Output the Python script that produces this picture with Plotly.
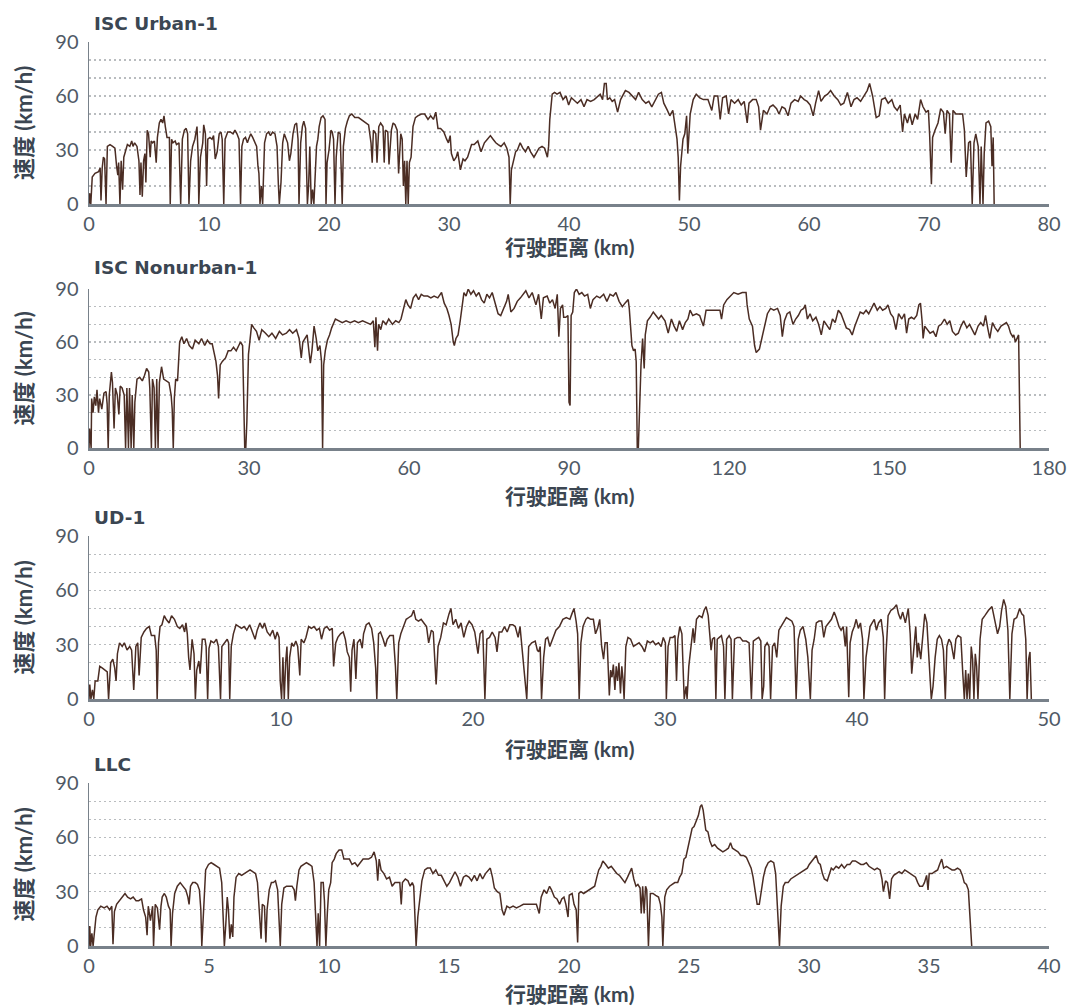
import plotly.graph_objects as go

# ---------------- data (distance km, speed km/h) ----------------
urban_km_a = [0, 0.05, 0.15, 0.27, 0.5, 0.8, 0.93, 1.0, 1.1, 1.2,
              1.3, 1.42, 1.53, 1.75, 1.97, 2.16, 2.3, 2.4, 2.47, 2.58,
              2.68, 2.8, 2.9, 3.07, 3.2, 3.4, 3.56, 3.67, 3.8, 4.0,
              4.16, 4.25, 4.33, 4.44, 4.55, 4.66, 4.74, 4.85, 4.96, 5.1,
              5.18, 5.3, 5.45, 5.6, 5.7, 5.86, 6.0, 6.14, 6.25, 6.36,
              6.5, 6.7, 6.77, 6.88, 7.0, 7.18, 7.29, 7.5, 7.64, 7.78,
              7.95, 8.1, 8.22, 8.33, 8.47, 8.63, 8.82, 9.0, 9.1, 9.15,
              9.29, 9.48, 9.56, 9.7, 9.8, 9.9, 10.08, 10.25, 10.38, 10.52,
              10.68, 10.85, 11.0, 11.1, 11.23, 11.34, 11.56, 11.78, 12.0, 12.16,
              12.33, 12.5, 12.63, 12.74, 12.88, 13.04, 13.2, 13.3, 13.48, 13.64,
              13.8, 13.97, 14.08, 14.16, 14.25, 14.36, 14.47, 14.55, 14.63, 14.8,
              14.96, 15.12, 15.3, 15.5, 15.67, 15.78, 15.86, 16.0, 16.14, 16.27,
              16.4, 16.55, 16.7, 16.82, 17.0, 17.15, 17.3, 17.42, 17.5, 17.64,
              17.78, 17.9, 18.05, 18.2, 18.3, 18.4, 18.52, 18.63, 18.74, 18.82,
              18.96, 19.07, 19.18, 19.34, 19.5, 19.67, 19.75, 19.84, 20.0, 20.16,
              20.27, 20.38, 20.5, 20.6, 20.77, 20.93, 21.1, 21.2, 21.37, 21.53,
              21.7, 21.9, 22.15]
urban_speed_a = [0, 6, 0, 15, 17, 18, 20, 2, 20, 26,
                 25, 0, 32, 33, 32, 31, 21, 16, 23, 0,
                 24, 8, 26, 30, 33, 32, 35, 32, 34, 32,
                 24, 5, 23, 4, 24, 28, 12, 41, 39, 26,
                 35, 34, 35, 23, 37, 45, 47, 45, 49, 43,
                 37, 37, 0, 36, 34, 35, 33, 34, 0, 36,
                 41, 42, 39, 0, 24, 32, 36, 43, 26, 0,
                 26, 34, 44, 39, 10, 36, 37, 36, 38, 25,
                 29, 39, 40, 36, 0, 36, 40, 40, 39, 41,
                 39, 36, 0, 32, 36, 37, 34, 36, 39, 37,
                 34, 32, 21, 17, 0, 10, 0, 17, 34, 39,
                 40, 38, 40, 39, 32, 11, 0, 12, 34, 39,
                 37, 34, 24, 28, 39, 44, 45, 36, 0, 34,
                 43, 46, 42, 0, 10, 32, 0, 8, 0, 15,
                 32, 36, 43, 48, 49, 47, 0, 23, 30, 41,
                 40, 36, 0, 26, 40, 39, 0, 32, 42, 46,
                 49, 50, 48]
urban_km_b = [22.46, 22.88, 23.3, 23.5, 23.6, 23.7, 23.9, 24.0, 24.15, 24.3,
              24.5, 24.6, 24.7, 24.9, 25.0, 25.2, 25.34, 25.5, 25.68, 25.8,
              25.98, 26.1, 26.2, 26.3, 26.4, 26.5, 26.6, 26.7, 26.84, 27.0,
              27.2, 27.4, 27.7, 27.97, 28.25, 28.47, 28.7, 28.9, 29.08, 29.3,
              29.57, 29.8, 29.95, 30.1, 30.2, 30.4, 30.6, 30.73, 30.95, 31.17,
              31.33, 31.55, 31.72, 31.88, 32.1, 32.4, 32.67, 32.95, 33.2, 33.45,
              33.67, 33.9, 34.1, 34.33, 34.6, 34.82, 35.0, 35.1, 35.2, 35.4,
              35.55, 35.7, 35.93, 36.15, 36.37, 36.6, 36.8, 37.08, 37.3, 37.5,
              37.75, 37.97, 38.2, 38.3, 38.4, 38.6, 38.8, 39.0, 39.25, 39.5,
              39.75, 39.97, 40.2, 40.4, 40.7, 41.0, 41.25, 41.5, 41.8, 42.1,
              42.3, 42.6, 42.8, 42.95, 43.1, 43.2, 43.4, 43.6, 43.8, 44.05,
              44.3, 44.5, 44.7, 45.0, 45.3, 45.55, 45.8, 46.1, 46.4, 46.65,
              46.9, 47.2, 47.45, 47.7, 47.9, 48.2, 48.4, 48.65, 48.85, 49.0,
              49.1, 49.2, 49.3, 49.5, 49.65, 49.8, 49.9, 50.0, 50.1, 50.35,
              50.6, 50.9, 51.2]
urban_speed_b = [48, 46, 44, 34, 23, 41, 39, 23, 43, 45,
                 43, 23, 41, 40, 22, 41, 45, 44, 41, 17,
                 39, 36, 10, 24, 0, 24, 0, 23, 26, 43,
                 48, 49, 50, 50, 47, 49, 47, 51, 42, 42,
                 40, 36, 34, 38, 28, 24, 26, 29, 19, 25,
                 24, 26, 30, 33, 33, 35, 29, 34, 36, 38,
                 36, 34, 33, 32, 34, 31, 26, 0, 19, 24,
                 29, 30, 34, 31, 29, 32, 29, 26, 29, 31,
                 32, 31, 26, 32, 47, 61, 62, 61, 62, 58,
                 60, 55, 59, 58, 56, 58, 54, 58, 57, 58,
                 59, 61, 58, 67, 67, 58, 59, 57, 58, 51,
                 58, 61, 63, 62, 60, 58, 62, 58, 56, 57,
                 54, 58, 61, 62, 56, 52, 49, 52, 41, 36,
                 26, 2, 21, 36, 39, 49, 28, 43, 50, 58,
                 61, 59, 58]
urban_km_c = [51.58, 51.9, 52.1, 52.4, 52.6, 52.8, 53.1, 53.3, 53.5, 53.8,
              54.1, 54.35, 54.6, 54.85, 55.0, 55.3, 55.6, 55.8, 55.96, 56.2,
              56.5, 56.75, 57.0, 57.3, 57.5, 57.75, 58.0, 58.25, 58.5, 58.8,
              59.1, 59.3, 59.6, 59.85, 60.1, 60.35, 60.55, 60.8, 61.0, 61.3,
              61.55, 61.8, 62.1, 62.4, 62.65, 62.9, 63.2, 63.5, 63.75, 64.0,
              64.3, 64.6, 64.85, 65.05, 65.3, 65.45, 65.6, 65.85, 66.05, 66.35,
              66.6, 66.9, 67.1, 67.35, 67.6, 67.8, 67.95, 68.2, 68.4, 68.6,
              68.85, 69.05, 69.3, 69.5, 69.75, 69.95, 70.05, 70.2, 70.3, 70.5,
              70.75, 70.97, 71.2, 71.35, 71.5, 71.7, 71.85, 72.0, 72.25, 72.5,
              72.8, 72.95, 73.1, 73.3, 73.45, 73.6, 73.75, 73.9, 74.1, 74.25,
              74.35, 74.5, 74.6, 74.75, 74.97, 75.15, 75.25, 75.35, 75.43]
urban_speed_c = [58, 52, 60, 60, 47, 59, 60, 50, 58, 56,
                 58, 55, 57, 45, 56, 58, 58, 54, 41, 52,
                 50, 54, 55, 53, 50, 54, 53, 49, 56, 58,
                 57, 60, 58, 57, 55, 49, 56, 63, 57, 60,
                 61, 63, 60, 58, 55, 56, 62, 54, 58, 59,
                 57, 60, 63, 67, 60, 54, 48, 49, 58, 59,
                 56, 58, 54, 52, 55, 40, 50, 45, 50, 44,
                 50, 47, 58, 54, 51, 52, 39, 11, 37, 41,
                 45, 53, 51, 39, 52, 50, 23, 52, 50, 50,
                 50, 41, 15, 34, 35, 0, 34, 39, 32, 0,
                 32, 0, 28, 45, 46, 43, 21, 37, 0]

nonurban_km_a = [0, 0.1, 0.4, 0.5, 0.76, 1.0, 1.27, 1.5, 1.78, 2.0,
                 2.4, 2.8, 3.2, 3.4, 3.6, 3.8, 4.2, 4.4, 4.7, 4.95,
                 5.3, 5.6, 5.85, 6.2, 6.6, 6.86, 7.1, 7.4, 7.6, 7.9,
                 8.1, 8.4, 8.6, 9.0, 9.5, 10.0, 10.4, 10.8, 11.2, 11.4,
                 11.7, 11.9, 12.2, 12.45, 12.7, 12.95, 13.2, 13.6, 14.0, 14.5,
                 15.0, 15.4, 15.6, 15.8, 16.0, 16.25, 16.6, 17.0, 17.4, 17.8,
                 18.3, 18.8, 19.4, 19.9, 20.6, 21.1, 21.7, 22.2, 22.7, 23.1,
                 23.4, 23.8, 24.1, 24.3, 24.6, 25.0, 25.6, 26.1, 26.6, 27.1,
                 27.6, 28.0, 28.4, 28.8, 29.1, 29.2, 29.4, 29.6, 29.9, 30.3,
                 30.5, 30.9, 31.4, 31.9, 32.4, 33.1, 33.7, 34.3, 35.0, 35.7,
                 36.3, 37.0, 37.6, 38.2, 38.9, 39.4, 39.8, 40.1, 40.5, 40.9,
                 41.3, 41.5, 41.8, 42.2, 42.6, 42.9, 43.3, 43.6, 43.8, 44.0,
                 44.3, 44.7, 45.1, 45.5, 46.2, 46.8, 47.5, 48.2, 49.0, 49.8,
                 50.5, 51.3, 52.1, 52.8, 53.3, 53.6, 53.8, 54.1, 54.3, 54.7,
                 55.1, 55.7, 56.2, 56.9, 57.5, 58.1, 58.5, 58.9, 59.4, 59.8,
                 60.3, 60.8, 61.3, 61.8, 62.3, 62.8, 63.5, 64.1, 64.7, 65.4,
                 66.1, 66.6, 67.1, 67.5, 67.9, 68.3, 68.5, 68.8, 69.2, 69.6,
                 69.9, 70.3, 70.7, 71.1, 71.6, 72.1, 72.6, 73.1, 73.6, 74.1,
                 74.6, 75.1, 75.6, 76.2, 76.7, 77.2, 77.8, 78.3, 78.6, 79.1,
                 79.7, 80.3, 80.9]
nonurban_speed_a = [0, 11, 0, 28, 20, 29, 24, 33, 20, 28,
                    22, 31, 32, 25, 0, 30, 43, 37, 11, 34,
                    30, 19, 35, 34, 30, 0, 34, 0, 34, 0,
                    30, 0, 26, 39, 40, 38, 41, 45, 43, 34,
                    0, 39, 34, 0, 39, 0, 37, 46, 39, 38,
                    37, 30, 22, 0, 28, 39, 38, 60, 63, 59,
                    62, 58, 56, 61, 59, 62, 58, 61, 59, 59,
                    55, 49, 41, 28, 47, 49, 51, 55, 55, 57,
                    55, 58, 60, 58, 19, 0, 0, 15, 53, 66,
                    70, 68, 66, 61, 67, 65, 63, 65, 62, 66,
                    64, 65, 67, 65, 67, 62, 51, 60, 62, 64,
                    53, 48, 55, 69, 62, 55, 58, 49, 0, 47,
                    55, 61, 64, 68, 73, 72, 71, 72, 71, 72,
                    71, 72, 71, 70, 72, 57, 74, 55, 70, 67,
                    72, 70, 73, 70, 72, 71, 73, 78, 84, 81,
                    79, 85, 87, 84, 87, 86, 86, 85, 86, 85,
                    88, 82, 79, 75, 70, 60, 58, 62, 64, 72,
                    79, 88, 86, 90, 87, 89, 86, 88, 84, 82,
                    87, 85, 88, 81, 76, 75, 79, 83, 87, 77,
                    79, 83, 85]
nonurban_km_b = [81.9, 82.5, 83.1, 83.8, 84.3, 84.8, 85.2, 85.9, 86.4, 86.9,
                 87.4, 87.8, 88.1, 88.4, 88.8, 89.0, 89.4, 89.8, 90.0, 90.2,
                 90.4, 90.7, 91.0, 91.4, 91.9, 92.4, 92.9, 93.5, 94.0, 94.5,
                 95.2, 95.8, 96.5, 97.1, 97.7, 98.3, 98.8, 99.4, 100.0, 100.5,
                 101.1, 101.3, 101.6, 101.8, 102.1, 102.4, 102.6, 102.8, 103.0, 103.3,
                 103.5, 103.8, 104.1, 104.3, 104.7, 105.2, 105.8, 106.3, 106.8, 107.3,
                 108.0, 108.6, 109.2, 109.7, 110.2, 110.7, 111.3, 111.8, 112.3, 112.7,
                 113.2, 113.9, 114.5, 115.2, 115.7, 116.5, 117.5, 118.3, 118.6, 119.0,
                 119.6, 120.3, 120.9, 121.7, 122.5, 123.2, 123.4, 123.8, 124.4, 124.8,
                 125.1, 125.7, 126.2, 126.7, 127.2, 127.8, 128.4, 129.1, 129.6, 130.0,
                 130.4, 130.9, 131.4, 132.0, 132.5, 133.0, 133.5, 134.0, 134.3, 134.7,
                 135.2, 135.7, 136.3, 136.8, 137.3, 137.8, 138.4, 138.9, 139.4, 139.9,
                 140.5, 141.0, 141.5, 142.0, 142.6, 143.1, 143.6, 144.1, 144.6, 145.2,
                 145.7, 146.2, 146.7, 147.2, 147.8, 148.3, 148.8, 149.4, 149.8, 150.3,
                 150.8, 151.3, 151.8, 152.4, 152.9, 153.3, 153.7, 154.2, 154.7, 155.2,
                 155.6, 155.9, 156.2, 156.4, 156.7, 157.2, 157.7, 158.3, 158.8, 159.3,
                 159.8, 160.4, 160.9, 161.4, 161.9, 162.5, 163.0, 163.5, 164.0, 164.6,
                 165.1, 165.6, 166.1, 166.7, 167.2, 167.7, 168.1, 168.5, 168.9, 169.4,
                 169.9, 170.4, 171.0, 171.5, 172.0, 172.4, 172.8, 173.2, 173.4, 173.7,
                 174.3, 174.6]
nonurban_speed_b = [89, 85, 88, 81, 87, 73, 85, 86, 82, 84,
                    79, 87, 63, 79, 81, 74, 74, 75, 26, 24,
                    75, 77, 88, 90, 87, 88, 86, 87, 79, 84,
                    86, 85, 87, 83, 87, 86, 88, 83, 80, 82,
                    84, 79, 68, 58, 55, 56, 49, 0, 0, 38,
                    47, 62, 45, 64, 72, 74, 77, 75, 73, 75,
                    72, 65, 73, 69, 66, 72, 67, 71, 73, 78,
                    75, 76, 75, 69, 78, 78, 78, 78, 73, 81,
                    84, 86, 88, 87, 88, 88, 81, 73, 69, 58,
                    54, 56, 63, 70, 76, 79, 78, 79, 75, 63,
                    72, 76, 77, 70, 73, 75, 78, 79, 81, 73,
                    76, 72, 74, 70, 64, 72, 69, 67, 73, 71,
                    78, 76, 72, 68, 67, 64, 69, 73, 77, 76,
                    78, 76, 79, 82, 78, 80, 78, 79, 81, 76,
                    74, 67, 76, 73, 76, 65, 73, 74, 73, 75,
                    81, 82, 72, 62, 69, 67, 65, 66, 63, 69,
                    70, 73, 70, 72, 66, 64, 65, 69, 72, 68,
                    70, 67, 64, 69, 71, 69, 75, 68, 62, 71,
                    68, 66, 69, 70, 71, 69, 65, 63, 64, 60,
                    64, 0]

ud_km_a = [0, 0.04, 0.1, 0.18, 0.25, 0.32, 0.46, 0.56, 0.7, 0.85,
           0.95, 1.02, 1.13, 1.24, 1.34, 1.41, 1.48, 1.59, 1.73, 1.84,
           1.98, 2.12, 2.22, 2.33, 2.44, 2.54, 2.61, 2.72, 2.86, 3.0,
           3.14, 3.25, 3.42, 3.5, 3.55, 3.62, 3.7, 3.8, 3.92, 4.02,
           4.17, 4.3, 4.45, 4.6, 4.73, 4.87, 4.98, 5.05, 5.12, 5.19,
           5.26, 5.37, 5.47, 5.54, 5.61, 5.72, 5.79, 5.9, 6.04, 6.1,
           6.18, 6.25, 6.35, 6.5, 6.64, 6.74, 6.85, 6.92, 7.06, 7.2,
           7.27, 7.33, 7.41, 7.52, 7.66, 7.8, 7.94, 8.08, 8.22, 8.37,
           8.5, 8.65, 8.76, 8.9, 9.04, 9.14, 9.28, 9.43, 9.57, 9.7,
           9.8, 9.9, 9.96, 10.03, 10.1, 10.17, 10.24, 10.31, 10.38, 10.45,
           10.56, 10.66, 10.77, 10.87, 10.98, 11.05, 11.19, 11.3, 11.44, 11.58,
           11.72, 11.86, 12.0, 12.11, 12.25, 12.39, 12.53, 12.67, 12.74, 12.85,
           12.96, 13.1, 13.24, 13.35, 13.45, 13.56, 13.63, 13.7, 13.8, 13.9,
           13.98, 14.12, 14.23, 14.3, 14.44, 14.58, 14.72, 14.83, 14.93, 14.99,
           15.08, 15.18, 15.32, 15.43, 15.53, 15.67, 15.85, 15.96, 16.03, 16.13,
           16.24, 16.38, 16.52, 16.66, 16.8, 16.91, 17.02, 17.16, 17.3, 17.44,
           17.58, 17.69, 17.83, 17.93, 18.08, 18.18, 18.32, 18.46, 18.6, 18.75,
           18.85, 18.96, 19.1, 19.24, 19.38, 19.52, 19.66, 19.8, 19.95, 20.09,
           20.19, 20.26, 20.37, 20.51, 20.62, 20.72, 20.86, 21.0, 21.15, 21.25,
           21.36, 21.5, 21.64, 21.78, 21.92, 22.07, 22.2, 22.35, 22.45]
ud_speed_a = [0, 8, 0, 5, 0, 10, 10, 18, 17, 16,
              15, 0, 20, 22, 17, 10, 25, 31, 29, 31,
              27, 29, 27, 5, 29, 31, 13, 34, 37, 39,
              40, 35, 35, 27, 0, 31, 40, 41, 46, 44,
              42, 46, 44, 40, 39, 41, 37, 42, 36, 23,
              16, 33, 25, 0, 16, 21, 14, 33, 33, 29,
              0, 28, 32, 31, 33, 29, 0, 29, 31, 33,
              31, 0, 29, 36, 41, 40, 39, 40, 38, 41,
              37, 33, 38, 42, 39, 42, 37, 35, 38, 33,
              37, 34, 10, 0, 23, 0, 20, 29, 0, 23,
              31, 29, 32, 29, 13, 33, 31, 34, 40, 39,
              40, 38, 39, 33, 39, 40, 38, 39, 18, 31,
              34, 36, 37, 33, 26, 23, 4, 27, 33, 11,
              31, 33, 28, 36, 41, 42, 39, 31, 17, 0,
              36, 37, 33, 29, 33, 35, 35, 18, 0, 31,
              36, 40, 44, 45, 46, 49, 44, 43, 44, 42,
              40, 31, 38, 37, 8, 29, 34, 42, 41, 47,
              50, 41, 44, 39, 42, 34, 40, 43, 41, 37,
              29, 25, 36, 38, 0, 33, 34, 37, 34, 26,
              37, 37, 40, 37, 41, 41, 40, 34, 40]
ud_km_b = [22.8, 22.9, 23.06, 23.24, 23.35, 23.42, 23.5, 23.57, 23.68, 23.78,
           23.89, 24.0, 24.14, 24.32, 24.5, 24.68, 24.86, 25.05, 25.15, 25.26,
           25.37, 25.45, 25.53, 25.62, 25.73, 25.88, 25.98, 26.13, 26.27, 26.38,
           26.49, 26.6, 26.7, 26.8, 26.88, 26.99, 27.1, 27.17, 27.24, 27.31,
           27.39, 27.46, 27.53, 27.6, 27.68, 27.75, 27.82, 27.87, 27.96, 28.07,
           28.21, 28.36, 28.5, 28.65, 28.8, 28.94, 29.08, 29.23, 29.37, 29.51,
           29.66, 29.8, 29.91, 30.02, 30.07, 30.16, 30.27, 30.41, 30.52, 30.6,
           30.67, 30.77, 30.88, 30.95, 31.0, 31.1, 31.15, 31.24, 31.35, 31.46,
           31.53, 31.64, 31.78, 31.93, 32.04, 32.14, 32.25, 32.32, 32.4, 32.47,
           32.58, 32.65, 32.72, 32.83, 32.94, 33.05, 33.12, 33.21, 33.34, 33.44,
           33.51, 33.62, 33.77, 33.91, 34.05, 34.23, 34.38, 34.5, 34.6, 34.74,
           34.88, 34.99, 35.06, 35.14, 35.2, 35.32, 35.42, 35.5, 35.6, 35.71,
           35.82, 35.93, 36.04, 36.18, 36.32, 36.47, 36.61, 36.72, 36.83, 36.94,
           37.05, 37.19, 37.33, 37.44, 37.51, 37.57, 37.66, 37.77, 37.88, 38.02,
           38.16, 38.27, 38.38, 38.52, 38.67, 38.81, 38.92, 39.06, 39.17, 39.28,
           39.39, 39.46, 39.57, 39.64, 39.75, 39.86, 39.96, 40.07, 40.18, 40.29,
           40.36, 40.47, 40.58, 40.68, 40.79, 40.9, 41.01, 41.12, 41.26, 41.37,
           41.44, 41.51, 41.62, 41.77, 41.91, 42.06, 42.16, 42.27, 42.38, 42.52,
           42.67, 42.77, 42.85, 42.95, 43.06, 43.14, 43.2, 43.32, 43.42, 43.53,
           43.64, 43.75, 43.82, 43.87, 43.96, 44.07, 44.18, 44.29, 44.4, 44.5,
           44.6, 44.68, 44.79, 44.9, 45.05, 45.15, 45.26, 45.41, 45.51, 45.59,
           45.66, 45.73, 45.8, 45.87, 45.95, 46.02, 46.09, 46.16, 46.23, 46.3,
           46.41, 46.52, 46.66, 46.85, 47.03, 47.17, 47.32, 47.43, 47.53, 47.64,
           47.75, 47.86, 47.96, 48.07, 48.18, 48.32, 48.47, 48.58, 48.68, 48.79,
           48.86, 48.94, 49.01, 49.08]
ud_speed_b = [0, 29, 31, 32, 27, 26, 29, 0, 23, 33,
              34, 29, 33, 38, 40, 44, 45, 44, 47, 50,
              43, 36, 0, 31, 40, 44, 45, 44, 44, 36,
              39, 44, 29, 22, 31, 31, 2, 16, 12, 19,
              5, 18, 10, 20, 3, 18, 10, 0, 29, 34,
              33, 29, 30, 31, 29, 26, 32, 31, 32, 30,
              31, 29, 34, 31, 0, 29, 34, 34, 35, 10,
              33, 40, 36, 19, 0, 7, 0, 18, 29, 39,
              31, 44, 46, 45, 49, 51, 46, 36, 27, 33,
              34, 0, 33, 34, 35, 29, 0, 33, 35, 33,
              0, 33, 34, 34, 32, 32, 31, 0, 32, 33,
              34, 32, 0, 7, 29, 31, 29, 0, 29, 31,
              23, 38, 40, 42, 45, 44, 43, 40, 0, 33,
              38, 40, 33, 23, 11, 0, 27, 33, 42, 43,
              43, 34, 40, 42, 44, 48, 45, 40, 38, 40,
              29, 40, 1, 31, 37, 40, 44, 39, 42, 33,
              0, 23, 31, 40, 42, 44, 38, 42, 44, 34,
              0, 25, 46, 49, 50, 52, 47, 44, 48, 42,
              50, 36, 14, 29, 40, 23, 31, 22, 34, 47,
              42, 22, 7, 0, 7, 23, 33, 35, 33, 27,
              0, 29, 33, 31, 22, 33, 35, 34, 14, 0,
              16, 0, 14, 0, 29, 22, 0, 25, 18, 0,
              33, 44, 46, 49, 51, 44, 36, 40, 49, 55,
              51, 38, 0, 36, 44, 45, 50, 47, 46, 33,
              0, 22, 26, 0]

llc_km_a = [0, 0.03, 0.07, 0.12, 0.17, 0.23, 0.29, 0.37, 0.49, 0.63,
            0.75, 0.86, 0.95, 1.0, 1.06, 1.15, 1.27, 1.38, 1.5, 1.61,
            1.73, 1.84, 1.96, 2.07, 2.19, 2.27, 2.36, 2.42, 2.47, 2.56,
            2.65, 2.69, 2.76, 2.85, 2.94, 3.0, 3.05, 3.14, 3.22, 3.31,
            3.38, 3.42, 3.48, 3.57, 3.68, 3.8, 3.91, 4.03, 4.12, 4.17,
            4.23, 4.32, 4.43, 4.52, 4.6, 4.66, 4.7, 4.78, 4.86, 4.98,
            5.09, 5.21, 5.32, 5.44, 5.53, 5.58, 5.64, 5.7, 5.76, 5.81,
            5.87, 5.93, 5.99, 6.04, 6.13, 6.24, 6.36, 6.47, 6.59, 6.71,
            6.82, 6.94, 7.02, 7.11, 7.17, 7.22, 7.31, 7.37, 7.42, 7.51,
            7.6, 7.68, 7.77, 7.86, 7.91, 7.97, 8.03, 8.12, 8.23, 8.35,
            8.46, 8.55, 8.6, 8.66, 8.75, 8.83, 8.95, 9.06, 9.18, 9.29,
            9.38, 9.44, 9.5, 9.55, 9.61, 9.67, 9.76, 9.81, 9.87, 9.93,
            9.99, 10.07, 10.13, 10.22, 10.3, 10.42, 10.53, 10.62, 10.73, 10.85,
            10.96, 11.08, 11.19, 11.31, 11.42, 11.54, 11.65, 11.77, 11.88, 11.97,
            12.03, 12.09, 12.17, 12.29, 12.4, 12.52, 12.63, 12.75, 12.86, 12.95,
            13.01, 13.06, 13.18, 13.29, 13.38, 13.47, 13.53, 13.58, 13.63, 13.7,
            13.78, 13.87, 13.99, 14.1, 14.22, 14.33, 14.45, 14.56, 14.68, 14.79,
            14.91, 15.02, 15.14, 15.25, 15.37, 15.48, 15.6, 15.71, 15.83, 15.94,
            16.06, 16.17, 16.29, 16.4, 16.52, 16.63, 16.72, 16.81, 16.89, 17.01,
            17.12, 17.21, 17.29, 17.41, 17.53, 17.67, 17.81, 17.96, 18.1]
llc_speed_a = [0, 11, 0, 7, 0, 9, 16, 20, 22, 21,
               22, 20, 22, 1, 19, 23, 25, 27, 29, 27,
               26, 27, 25, 25, 26, 20, 16, 6, 22, 14,
               22, 0, 23, 21, 9, 22, 27, 29, 27, 22,
               20, 0, 18, 29, 33, 35, 33, 31, 27, 23,
               33, 35, 35, 34, 31, 20, 0, 20, 42, 45,
               46, 45, 44, 43, 35, 16, 0, 12, 27, 20,
               4, 12, 5, 27, 38, 40, 39, 40, 41, 42,
               41, 40, 35, 18, 4, 23, 22, 2, 20, 31,
               35, 35, 36, 31, 20, 0, 23, 32, 33, 33,
               33, 31, 25, 33, 42, 44, 45, 46, 45, 44,
               35, 18, 0, 18, 0, 35, 35, 25, 0, 18,
               31, 35, 46, 48, 51, 53, 53, 48, 48, 48,
               45, 46, 44, 46, 48, 48, 48, 49, 52, 47,
               36, 48, 42, 40, 37, 38, 33, 35, 35, 35,
               23, 35, 37, 36, 33, 35, 33, 18, 0, 16,
               25, 36, 42, 43, 43, 40, 42, 39, 39, 36,
               33, 35, 38, 41, 38, 33, 38, 39, 38, 36,
               39, 36, 40, 37, 40, 42, 43, 38, 32, 30,
               29, 20, 17, 22, 21, 22, 21, 22, 23]
llc_km_b = [18.36, 18.5, 18.64, 18.76, 18.84, 18.96, 19.07, 19.19, 19.27, 19.39,
            19.5, 19.61, 19.7, 19.79, 19.87, 19.96, 20.01, 20.13, 20.21, 20.3,
            20.36, 20.41, 20.5, 20.61, 20.73, 20.84, 20.96, 21.07, 21.16, 21.24,
            21.33, 21.41, 21.53, 21.64, 21.76, 21.87, 21.99, 22.1, 22.21, 22.33,
            22.44, 22.56, 22.61, 22.7, 22.79, 22.87, 22.96, 23.01, 23.07, 23.13,
            23.19, 23.24, 23.31, 23.39, 23.5, 23.61, 23.73, 23.81, 23.87, 23.91,
            23.99, 24.07, 24.19, 24.3, 24.41, 24.53, 24.61, 24.7, 24.79, 24.87,
            24.96, 25.04, 25.13, 25.21, 25.3, 25.39, 25.47, 25.53, 25.59, 25.64,
            25.7, 25.79, 25.87, 25.96, 26.07, 26.19, 26.3, 26.41, 26.53, 26.64,
            26.73, 26.81, 26.93, 27.04, 27.16, 27.27, 27.39, 27.5, 27.59, 27.67,
            27.76, 27.84, 27.93, 28.01, 28.1, 28.19, 28.3, 28.41, 28.53, 28.61,
            28.67, 28.73, 28.77, 28.84, 28.93, 29.01, 29.13, 29.24, 29.36, 29.47,
            29.59, 29.7, 29.81, 29.93, 30.01, 30.13, 30.21, 30.3, 30.39, 30.47,
            30.56, 30.64, 30.76, 30.84, 30.93, 31.01, 31.13, 31.24, 31.36, 31.47,
            31.59, 31.7, 31.81, 31.93, 32.04, 32.16, 32.27, 32.39, 32.5, 32.61,
            32.73, 32.84, 32.96, 33.04, 33.1, 33.19, 33.27, 33.36, 33.44, 33.53,
            33.64, 33.76, 33.87, 33.99, 34.1, 34.21, 34.33, 34.44, 34.53, 34.61,
            34.73, 34.81, 34.9, 34.96, 35.01, 35.13, 35.24, 35.36, 35.44, 35.53,
            35.61, 35.73, 35.84, 35.96, 36.07, 36.19, 36.3, 36.39, 36.47, 36.56,
            36.64, 36.78]
llc_speed_b = [23, 23, 23, 18, 27, 31, 29, 33, 31, 27,
               26, 23, 26, 27, 23, 16, 28, 29, 23, 20,
               2, 29, 30, 29, 30, 31, 32, 33, 38, 42,
               44, 47, 45, 43, 44, 42, 40, 39, 37, 35,
               38, 41, 43, 37, 33, 34, 32, 18, 33, 18,
               33, 31, 0, 29, 29, 28, 27, 23, 16, 0,
               27, 31, 33, 34, 35, 35, 38, 40, 48, 49,
               55, 61, 65, 66, 69, 72, 77, 78, 75, 70,
               64, 63, 58, 55, 56, 54, 53, 52, 53, 54,
               57, 54, 53, 52, 50, 50, 49, 46, 43, 38,
               31, 23, 23, 31, 38, 43, 46, 47, 46, 40,
               22, 9, 0, 22, 33, 35, 35, 37, 38, 39,
               40, 41, 42, 43, 45, 47, 48, 50, 46, 45,
               40, 37, 36, 39, 43, 42, 44, 43, 45, 43,
               45, 45, 47, 47, 46, 45, 45, 46, 44, 43,
               42, 43, 42, 37, 30, 36, 35, 26, 37, 39,
               40, 41, 40, 42, 41, 40, 39, 38, 35, 33,
               33, 35, 39, 31, 40, 40, 41, 42, 45, 48,
               43, 44, 43, 42, 42, 43, 42, 39, 35, 34,
               31, 0]

panel_titles = ["ISC Urban-1", "ISC Nonurban-1", "UD-1", "LLC"]
x_max = [80, 180, 50, 40]
x_ticks = [list(range(0, 81, 10)), list(range(0, 181, 30)),
           list(range(0, 51, 10)), list(range(0, 41, 5))]
y_grid = list(range(0, 91, 10))
y_labels = ["0", "", "", "30", "", "", "60", "", "", "90"]
x_title = "行驶距离 (km)"
y_title = "速度 (km/h)"

series_km = [urban_km_a + urban_km_b + urban_km_c,
             nonurban_km_a + nonurban_km_b,
             ud_km_a + ud_km_b,
             llc_km_a + llc_km_b]
series_speed = [urban_speed_a + urban_speed_b + urban_speed_c,
                nonurban_speed_a + nonurban_speed_b,
                ud_speed_a + ud_speed_b,
                llc_speed_a + llc_speed_b]

for k, s in zip(series_km, series_speed):
    assert len(k) == len(s), (len(k), len(s))

# ---------------- layout ----------------
W, H = 1071, 1006
LEFT, RIGHT = 89, 1049
panel_px = [(42, 204), (289, 448), (536, 699), (783, 946)]
title_y = [24, 267, 517, 764]
xtitle_y = [246, 495, 748, 993]

LINE = "#4b2d24"
TICK = "#4f5a66"
TITLE = "#3b4652"
AXIS = "#78818a"
GRID = "#b9bcbf"
NUM_FONT = "Lato, 'Noto Sans', sans-serif"
TITLE_FONT = "'DejaVu Sans', Lato, sans-serif"
CJK_FONT = "Lato, 'Noto Sans CJK SC', sans-serif"

fig = go.Figure()
layout = dict(
    width=W, height=H,
    margin=dict(l=0, r=0, t=0, b=0, pad=0, autoexpand=False),
    paper_bgcolor="white", plot_bgcolor="white",
    showlegend=False,
    annotations=[],
)

for i in range(4):
    n = "" if i == 0 else str(i + 1)
    fig.add_trace(go.Scatter(
        x=series_km[i], y=series_speed[i], mode="lines",
        line=dict(color=LINE, width=1.5),
        xaxis="x" + n, yaxis="y" + n, hoverinfo="skip",
    ))
    top, bot = panel_px[i]
    layout["xaxis" + n] = dict(
        domain=[LEFT / W, RIGHT / W], anchor="y" + n, automargin=False,
        range=[0, x_max[i]], tickvals=x_ticks[i],
        showgrid=False, zeroline=False,
        showline=True, linecolor=AXIS, linewidth=2.5,
        ticks="", ticklabelstandoff=0,
        tickfont=dict(family=NUM_FONT, size=20, color=TICK),
    )
    layout["yaxis" + n] = dict(
        domain=[1 - bot / H, 1 - top / H], anchor="x" + n, automargin=False,
        range=[0, 90], tickvals=y_grid, ticktext=y_labels,
        showgrid=True, gridcolor=GRID, gridwidth=1.2, griddash="1.5px,3.5px",
        zeroline=False, showline=True, linecolor=AXIS, linewidth=1.5,
        ticks="", ticklabelstandoff=5,
        tickfont=dict(family=NUM_FONT, size=20, color=TICK),
    )
    layout["annotations"].append(dict(
        text="<b>" + panel_titles[i] + "</b>", x=92 / W, y=1 - title_y[i] / H,
        xref="paper", yref="paper", xanchor="left", yanchor="middle",
        showarrow=False, font=dict(family=TITLE_FONT, size=18.5, color=TITLE),
    ))
    layout["annotations"].append(dict(
        text="<b>" + y_title + "</b>", x=23 / W, y=1 - (top + bot) / 2 / H,
        xref="paper", yref="paper", xanchor="center", yanchor="middle",
        textangle=-90, showarrow=False,
        font=dict(family=CJK_FONT, size=22, color=TITLE),
    ))
    layout["annotations"].append(dict(
        text="<b>" + x_title + "</b>", x=(LEFT + RIGHT) / 2 / W, y=1 - xtitle_y[i] / H,
        xref="paper", yref="paper", xanchor="center", yanchor="middle",
        showarrow=False, font=dict(family=CJK_FONT, size=21, color=TITLE),
    ))

fig.update_layout(**layout)
fig.write_html(
    "out.html",
    config={"displayModeBar": False, "staticPlot": True},
    post_script="document.body.style.margin='0';document.body.style.overflow='hidden';",
)
